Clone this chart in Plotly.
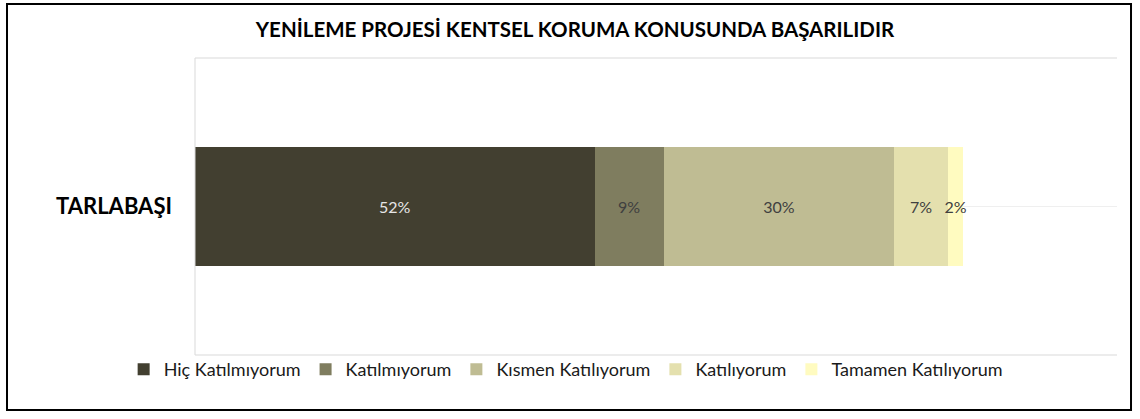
import plotly.graph_objects as go

categories = ["TARLABAŞI"]
series_names = ["Hiç Katılmıyorum", "Katılmıyorum", "Kısmen Katılıyorum", "Katılıyorum", "Tamamen Katılıyorum"]
series_values = [[52], [9], [30], [7], [2]]
colors = ["#423F30", "#7F7D5F", "#BFBC93", "#E4E0AE", "#FFFBC0"]
label_colors = ["#E6E6E6", "#404040", "#404040", "#404040", "#404040"]
title = "YENİLEME PROJESİ KENTSEL KORUMA KONUSUNDA BAŞARILIDIR"

FONT = "Lato, Carlito, 'Noto Sans', sans-serif"

fig = go.Figure()
for name, vals, col, lc in zip(series_names, series_values, colors, label_colors):
    fig.add_trace(go.Bar(
        y=categories, x=vals, name=name, orientation="h",
        marker=dict(color=col, line=dict(width=0)),
        texttemplate="%{x}%", textposition="inside", insidetextanchor="middle",
        textangle=0, constraintext="none", cliponaxis=False,
        textfont=dict(family=FONT, size=16, color=lc),
    ))

grid = "#D9D9D9"
# plot area in px: left 195, right 1117, top 58, bottom 355 (height 297, width 922)
shapes = [
    dict(type="line", xref="paper", yref="paper", x0=0, x1=1, y0=1, y1=1, line=dict(color=grid, width=1), layer="below"),
    dict(type="line", xref="paper", yref="paper", x0=0, x1=1, y0=0, y1=0, line=dict(color=grid, width=1), layer="below"),
    dict(type="line", xref="paper", yref="paper", x0=0, x1=1, y0=0.5, y1=0.5, line=dict(color="#EFEFEF", width=1), layer="below"),
    dict(type="line", xref="paper", yref="paper", x0=0, x1=0, y0=0, y1=1, line=dict(color=grid, width=1), layer="above"),
    dict(type="rect", xref="paper", yref="paper", x0=-0.2039, x1=1.0152, y0=-0.1852, y1=1.1818,
         line=dict(color="black", width=2), fillcolor="rgba(0,0,0,0)", layer="above"),
]

fig.update_layout(
    width=1140, height=419, autosize=False,
    margin=dict(l=195, r=23, t=58, b=64, autoexpand=False),
    paper_bgcolor="white", plot_bgcolor="white",
    barmode="stack", bargap=0.6,
    title=dict(text="<b>" + title + "</b>", x=575 / 1140, xanchor="center", xref="container",
               y=1 - 30 / 419, yanchor="middle", font=dict(family=FONT, size=20.5, color="black")),
    xaxis=dict(range=[0, 120], showgrid=False, showticklabels=False, zeroline=False, showline=False,
               fixedrange=True, automargin=False),
    yaxis=dict(range=[-0.5, 0.5], showgrid=False, zeroline=False, showline=False, ticks="", automargin=False,
               tickfont=dict(family=FONT, size=22, color="black"), ticklabelstandoff=22),
    showlegend=True,
    legend=dict(orientation="h", x=0.402, xanchor="center", y=0.013, yanchor="top",
                font=dict(family=FONT, size=18, color="#1a1a1a"), traceorder="normal",
                itemwidth=30, tracegroupgap=0, bgcolor="rgba(0,0,0,0)"),
    shapes=shapes,
)
fig.update_yaxes(tickprefix="<b>", ticksuffix="</b>")

fig.write_html("out.html", config={"displayModeBar": False},
               post_script="document.body.style.margin='0';document.body.style.padding='0';")
